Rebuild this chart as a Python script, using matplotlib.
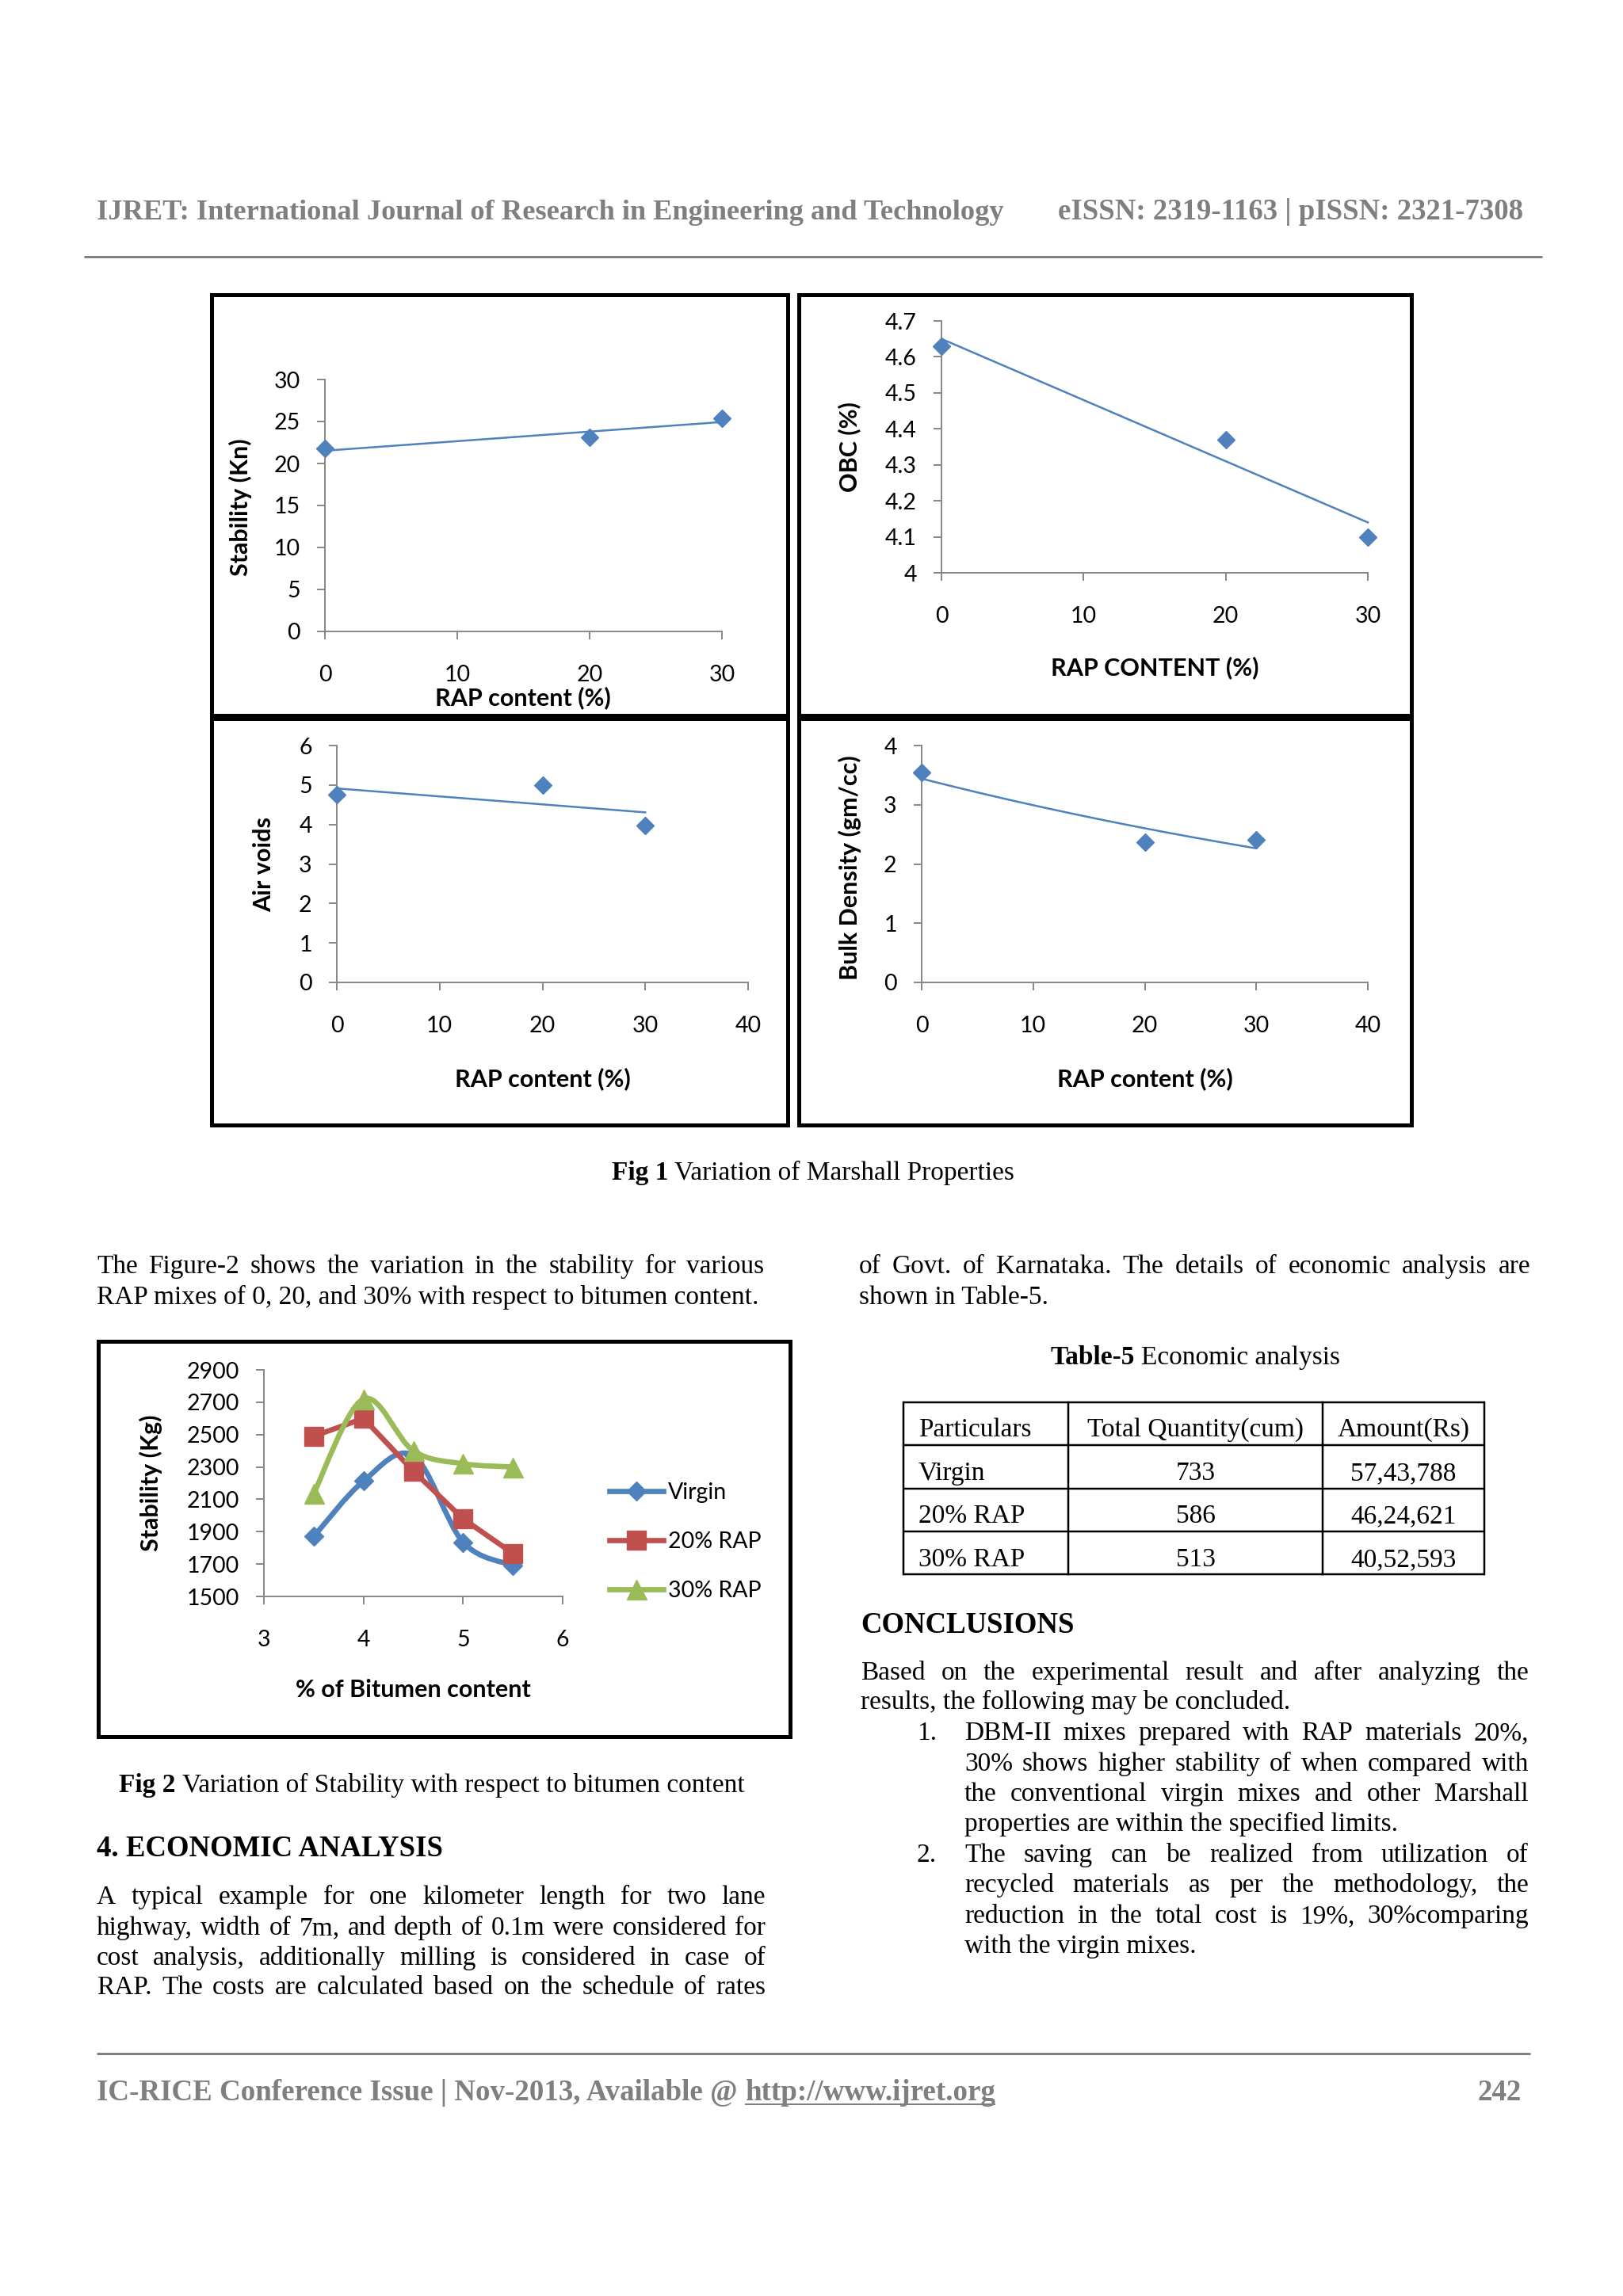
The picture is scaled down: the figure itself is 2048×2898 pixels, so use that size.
import numpy as np
import matplotlib
matplotlib.use('Agg')
import matplotlib.pyplot as plt
from matplotlib.lines import Line2D
from matplotlib.patches import Rectangle, PathPatch
from matplotlib.path import Path

# ---------------- data ----------------
rap_content = [0, 20, 30]
stability_kn = [21.75, 23.1, 25.4]
obc_pct = [4.63, 4.37, 4.10]
air_voids = [4.75, 5.0, 3.98]
bulk_density = [3.55, 2.37, 2.41]

bitumen_content = [3.5, 4.0, 4.5, 5.0, 5.5]
stab_virgin = [1870, 2213, 2370, 1835, 1692]
stab_rap20 = [2490, 2600, 2275, 1980, 1766]
stab_rap30 = [2135, 2720, 2400, 2320, 2300]
series_labels = ['Virgin', '20% RAP', '30% RAP']

tl_yticks = [0, 5, 10, 15, 20, 25, 30]
tr_yticks = [4, 4.1, 4.2, 4.3, 4.4, 4.5, 4.6, 4.7]
bl_yticks = [0, 1, 2, 3, 4, 5, 6]
br_yticks = [0, 1, 2, 3, 4]
fig2_yticks = [1500, 1700, 1900, 2100, 2300, 2500, 2700, 2900]
fig2_xticks = [3, 4, 5, 6]

table_header = ['Particulars', 'Total Quantity(cum)', 'Amount(Rs)']
table_particulars = ['Virgin', '20% RAP', '30% RAP']
table_quantity = ['733', '586', '513']
table_amount = ['57,43,788', '46,24,621', '40,52,593']

# ---------------- setup ----------------
W, H = 2048, 2898
plt.rcParams['font.family'] = ['Lato', 'DejaVu Sans']
fig = plt.figure(figsize=(W / 100, H / 100), dpi=100, facecolor='white')
R = fig.canvas.get_renderer()
SERIF = ['Liberation Serif', 'DejaVu Serif']
BLUE = '#4F81BD'; RED = '#C0504D'; GREEN = '#9BBB59'
AXGRAY = '#868686'; HDRGRAY = '#7F7F7F'
TICK_SIZE = 20.5
LABEL_SIZE = 22


def fx(x):
    return x / W


def fy(y):
    return 1 - y / H


def txt(x, y, s, size=24, weight='normal', ha='left', color='black'):
    return fig.text(fx(x), fy(y), s, fontsize=size, fontweight=weight, ha=ha,
                    va='baseline', color=color, family=SERIF)


def width(s, size=24, weight='normal'):
    t = fig.text(0, 0, s, fontsize=size, fontweight=weight, family=SERIF)
    w = t.get_window_extent(R).width
    t.remove()
    return w


def justify(line, x0, x1, y, size=24):
    words = line.split()
    ws = [width(w, size) for w in words]
    gap = (x1 - x0 - sum(ws)) / (len(words) - 1)
    x = x0
    for w, wd in zip(words, ws):
        txt(x, y, w, size)
        x += wd + gap


def runs(x, y, parts, size=24, ha='left', color='black'):
    sp = width('a a', size) - width('aa', size)
    ws = [width(s, size, wt) for s, wt in parts]
    total = sum(ws) + sp * (len(parts) - 1)
    if ha == 'center':
        x = x - total / 2
    for (s, wt), wd in zip(parts, ws):
        txt(x, y, s, size, wt, color=color)
        x += wd + sp


def fit(s, x0, x1, y, base, weight='bold', color='black'):
    size = base * (x1 - x0) / width(s, base, weight)
    txt(x0, y, s, size, weight, color=color)
    return size


def hline(x0, x1, y, lw_px, color):
    fig.add_artist(Line2D([fx(x0), fx(x1)], [fy(y), fy(y)], transform=fig.transFigure,
                          lw=lw_px * 0.72, color=color, solid_capstyle='butt'))


def vline(x, y0, y1, lw_px, color='black'):
    fig.add_artist(Line2D([fx(x), fx(x)], [fy(y0), fy(y1)], transform=fig.transFigure,
                          lw=lw_px * 0.72, color=color, solid_capstyle='projecting'))


def box(x0, y0, x1, y1, lw_px=5):
    fig.add_artist(Rectangle((fx(x0), fy(y1)), fx(x1) - fx(x0), fy(y0) - fy(y1),
                             transform=fig.transFigure, fill=False,
                             lw=lw_px * 0.72, edgecolor='black', joinstyle='miter'))


def chart_axes(l, r, t, b):
    ax = fig.add_axes([fx(l), fy(b), (r - l) / W, (b - t) / H])
    ax.patch.set_visible(False)
    for s in ('top', 'right'):
        ax.spines[s].set_visible(False)
    for s in ('left', 'bottom'):
        ax.spines[s].set_color(AXGRAY)
        ax.spines[s].set_linewidth(1.4)
    ax.tick_params(direction='out', length=7.5, width=1.4, color=AXGRAY,
                   labelsize=TICK_SIZE, labelcolor='black')
    ax.tick_params(axis='x', pad=23)
    ax.tick_params(axis='y', pad=15)
    return ax


def set_labels(ax, bx, xl, xpos, yl, ypos, size=LABEL_SIZE):
    l, r, t, b = bx
    ax.set_xlabel(xl, fontsize=size, fontweight='bold', va='center')
    ax.xaxis.set_label_coords((xpos[0] - l) / (r - l), (b - xpos[1]) / (b - t))
    ax.set_ylabel(yl, fontsize=size, fontweight='bold', va='center')
    ax.yaxis.set_label_coords((ypos[0] - l) / (r - l), (b - ypos[1]) / (b - t))


def fmt(v):
    return ('%g' % v)


def scatter_panel(bx, xlim, xticks, ylim, yticks, ys, kind, xl, xpos, yl, ypos):
    ax = chart_axes(*bx)
    ax.set_xlim(*xlim)
    ax.set_ylim(*ylim)
    ax.set_xticks(xticks, [fmt(v) for v in xticks])
    ax.set_yticks(yticks, [fmt(v) for v in yticks])
    xs = np.array(rap_content, float)
    yv = np.array(ys, float)
    xt = np.linspace(min(xs), max(xs), 60)
    if kind == 'linear':
        k, c = np.polyfit(xs, yv, 1)
        yt = k * xt + c
    else:
        k, c = np.polyfit(xs, np.log(yv), 1)
        yt = np.exp(c + k * xt)
    ax.plot(xt, yt, color=BLUE, lw=1.8, zorder=3, clip_on=False)
    ax.plot(xs, yv, ls='none', marker='D', ms=11.5, color=BLUE, zorder=4, clip_on=False)
    set_labels(ax, bx, xl, xpos, yl, ypos)
    return ax


# ---------------- header ----------------
fit('IJRET: International Journal of Research in Engineering and Technology', 122, 1269, 277, 26, color=HDRGRAY)
fit('eISSN: 2319-1163 | pISSN: 2321-7308', 1335, 1922, 277, 26, color=HDRGRAY)
hline(106, 1946, 324, 3, '#808080')

# ---------------- Fig 1 ----------------
box(267, 372, 994, 903)
box(1008, 372, 1781, 903)
box(267, 907, 994, 1420)
box(1008, 907, 1781, 1420)

scatter_panel((410, 911, 479, 797), (0, 30), [0, 10, 20, 30], (0, 30), tl_yticks,
              stability_kn, 'linear', 'RAP content (%)', (660, 881), 'Stability (Kn)', (303, 640))
scatter_panel((1188, 1726, 405, 723), (0, 30), [0, 10, 20, 30], (4, 4.7), tr_yticks,
              obc_pct, 'linear', 'RAP CONTENT (%)', (1457, 843), 'OBC (%)', (1072, 564))
scatter_panel((425, 944, 941, 1240), (0, 40), [0, 10, 20, 30, 40], (0, 6), bl_yticks,
              air_voids, 'linear', 'RAP content (%)', (685, 1362), 'Air voids', (333, 1091))
scatter_panel((1163, 1726, 941, 1240), (0, 40), [0, 10, 20, 30, 40], (0, 4), br_yticks,
              bulk_density, 'exp', 'RAP content (%)', (1445, 1362), 'Bulk Density (gm/cc)', (1072, 1095))

runs(1026, 1489, [('Fig 1', 'bold'), ('Variation of Marshall Properties', 'normal')], ha='center')

# ---------------- paragraph above ----------------
justify('The Figure-2 shows the variation in the stability for various', 122, 964, 1607)
txt(122, 1646, 'RAP mixes of 0, 20, and 30% with respect to bitumen content.')
justify('of Govt. of Karnataka. The details of economic analysis are', 1084, 1931, 1607)
txt(1084, 1646, 'shown in Table-5.')

# ---------------- Table ----------------
runs(1508, 1722, [('Table-5', 'bold'), ('Economic analysis', 'normal')], ha='center')
rows_y = [1770, 1824, 1879, 1933, 1987]
cols_x = [1140, 1348, 1669, 1873]
for y in rows_y:
    hline(cols_x[0], cols_x[-1], y, 2.5, 'black')
for x in cols_x:
    vline(x, rows_y[0], rows_y[-1], 2.5)
base_y = [1813, 1868, 1922, 1977]
txt(1159, base_y[0], table_header[0])
txt((cols_x[1] + cols_x[2]) / 2, base_y[0], table_header[1], ha='center')
txt((cols_x[2] + cols_x[3]) / 2, base_y[0], table_header[2], ha='center')
for i in range(3):
    txt(1159, base_y[i + 1], table_particulars[i])
    txt((cols_x[1] + cols_x[2]) / 2, base_y[i + 1], table_quantity[i], ha='center')
    txt((cols_x[2] + cols_x[3]) / 2, base_y[i + 1], table_amount[i], ha='center')

# ---------------- Fig 2 ----------------
box(124, 1693, 997, 2192)
bx2 = (333, 710, 1729, 2015)
ax2 = chart_axes(*bx2)
ax2.set_xlim(3, 6)
ax2.set_ylim(1500, 2900)
ax2.set_xticks(fig2_xticks, [fmt(v) for v in fig2_xticks])
ax2.set_yticks(fig2_yticks, [fmt(v) for v in fig2_yticks])


def smooth_path(xs, ys):
    pts = list(zip(xs, ys))
    n = len(pts)
    verts = [pts[0]]
    codes = [Path.MOVETO]
    for i in range(n - 1):
        p0 = pts[i - 1] if i > 0 else pts[i]
        p1 = pts[i]
        p2 = pts[i + 1]
        p3 = pts[i + 2] if i + 2 < n else pts[i + 1]
        c1 = (p1[0] + (p2[0] - p0[0]) / 6, p1[1] + (p2[1] - p0[1]) / 6)
        c2 = (p2[0] - (p3[0] - p1[0]) / 6, p2[1] - (p3[1] - p1[1]) / 6)
        verts += [c1, c2, p2]
        codes += [Path.CURVE4] * 3
    return Path(verts, codes)


LW2 = 4.8
ax2.add_patch(PathPatch(smooth_path(bitumen_content, stab_virgin), fill=False, edgecolor=BLUE,
                        lw=LW2, capstyle='round', joinstyle='round', zorder=3))
ax2.plot(bitumen_content, stab_virgin, ls='none', marker='D', ms=12, color=BLUE, zorder=3.1)
ax2.plot(bitumen_content, stab_rap20, ls='-', lw=LW2, marker='s', ms=17, color=RED, zorder=4,
         solid_joinstyle='round')
ax2.add_patch(PathPatch(smooth_path(bitumen_content, stab_rap30), fill=False, edgecolor=GREEN,
                        lw=LW2, capstyle='round', joinstyle='round', zorder=5))
ax2.plot(bitumen_content, stab_rap30, ls='none', marker='^', ms=18, color=GREEN, zorder=5.1)
set_labels(ax2, bx2, '% of Bitumen content', (521, 2133), 'Stability (Kg)', (190, 1872))

handles = [Line2D([], [], color=BLUE, lw=LW2, marker='D', ms=12),
           Line2D([], [], color=RED, lw=LW2, marker='s', ms=17),
           Line2D([], [], color=GREEN, lw=LW2, marker='^', ms=18)]
ax2.legend(handles, series_labels, loc='center left', bbox_to_anchor=(fx(769), fy(1946)),
           bbox_transform=fig.transFigure, frameon=False, fontsize=TICK_SIZE, handlelength=2.4,
           handletextpad=0.2, labelspacing=1.25, borderpad=0, borderaxespad=0)

runs(545, 2262, [('Fig 2', 'bold'), ('Variation of Stability with respect to bitumen content', 'normal')],
     ha='center')

# ---------------- 4. Economic analysis ----------------
txt(122, 2343, '4. ECONOMIC ANALYSIS', 26.5, 'bold')
justify('A typical example for one kilometer length for two lane', 122, 966, 2403)
justify('highway, width of 7m, and depth of 0.1m were considered for', 122, 966, 2442)
justify('cost analysis, additionally milling is considered in case of', 122, 966, 2480)
justify('RAP. The costs are calculated based on the schedule of rates', 122, 966, 2517)

# ---------------- Conclusions ----------------
txt(1086, 2061, 'CONCLUSIONS', 26.5, 'bold')
justify('Based on the experimental result and after analyzing the', 1086, 1929, 2120)
txt(1086, 2157, 'results, the following may be concluded.')
txt(1157, 2196, '1.')
justify('DBM-II mixes prepared with RAP materials 20%,', 1217, 1929, 2196)
justify('30% shows higher stability of when compared with', 1217, 1929, 2235)
justify('the conventional virgin mixes and other Marshall', 1217, 1929, 2273)
txt(1217, 2311, 'properties are within the specified limits.')
txt(1157, 2350, '2.')
justify('The saving can be realized from utilization of', 1217, 1929, 2350)
justify('recycled materials as per the methodology, the', 1217, 1929, 2388)
justify('reduction in the total cost is 19%, 30%comparing', 1217, 1929, 2427)
txt(1217, 2465, 'with the virgin mixes.')

# ---------------- footer ----------------
hline(122, 1931, 2592, 3, '#808080')
foot_a = 'IC-RICE Conference Issue | Nov-2013, Available @ '
foot_b = 'http://www.ijret.org'
full = foot_a + foot_b
fsize = 26 * (1257 - 122) / width(full, 26, 'bold')
txt(122, 2651, foot_a, fsize, 'bold', color=HDRGRAY)
wa = width(foot_a.rstrip(), fsize, 'bold') + (width('a a', fsize, 'bold') - width('aa', fsize, 'bold'))
wb = width(foot_b, fsize, 'bold')
txt(122 + wa, 2651, foot_b, fsize, 'bold', color=HDRGRAY)
hline(122 + wa, 122 + wa + wb, 2656, 2, HDRGRAY)
txt(1920, 2651, '242', fsize, 'bold', ha='right', color=HDRGRAY)

fig.savefig('out.png', dpi=100, facecolor='white')
